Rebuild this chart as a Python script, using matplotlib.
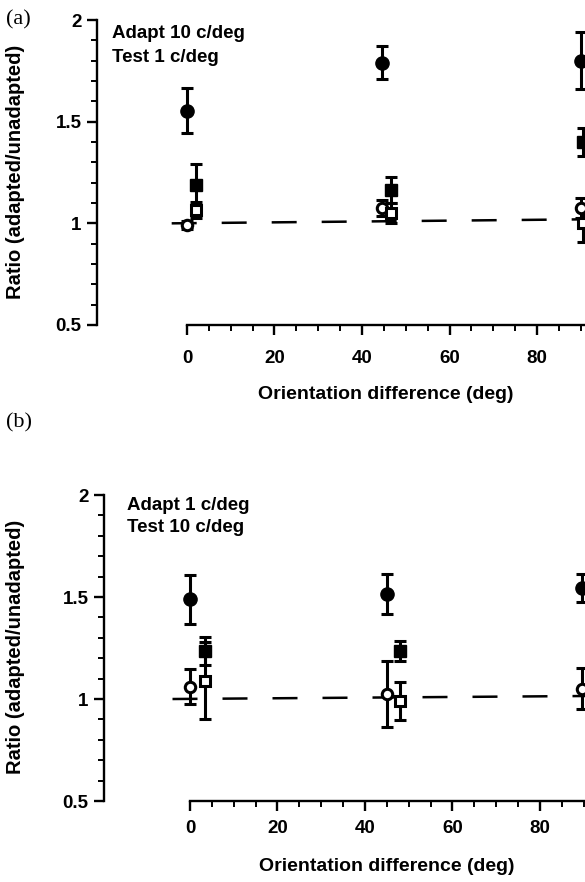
import matplotlib.pyplot as plt
from matplotlib.ticker import MultipleLocator, FixedLocator

# (a) Adapt 10 c/deg, Test 1 c/deg
a_circle_x = [0, 44.5, 90]
a_filled_circle = [1.555, 1.79, 1.80]
a_filled_circle_err = [0.113, 0.08, 0.14]
a_open_circle = [0.99, 1.074, 1.074]
a_open_circle_err = [0.02, 0.04, 0.05]
a_square_x = [2, 46.6, 90.6]
a_filled_square = [1.19, 1.163, 1.40]
a_filled_square_err = [0.10, 0.065, 0.07]
a_open_square = [1.065, 1.05, 1.0]
a_open_square_err = [0.04, 0.05, 0.09]
a_fit_x = [-3.5, 92]
a_fit_y = [1.0, 1.02]

# (b) Adapt 1 c/deg, Test 10 c/deg
b_circle_x = [0, 45, 89.6]
b_filled_circle = [1.49, 1.515, 1.545]
b_filled_circle_err = [0.12, 0.10, 0.07]
b_open_circle = [1.06, 1.025, 1.05]
b_open_circle_err = [0.085, 0.16, 0.10]
b_square_x = [3.5, 48]
b_filled_square = [1.235, 1.235]
b_filled_square_err = [0.07, 0.05]
b_open_square = [1.09, 0.99]
b_open_square_err = [0.19, 0.095]
b_fit_x = [-4, 92]
b_fit_y = [1.0, 1.015]

y_ticks = [0.5, 1, 1.5, 2]
y_ticklabels = ["0.5", "1", "1.5", "2"]
x_ticks = [0, 20, 40, 60, 80]
x_minor = [5, 10, 15, 25, 30, 35, 45, 50, 55, 65, 70, 75, 85, 90]

plt.rcParams['font.family'] = ['Liberation Sans', 'DejaVu Sans']
W, H = 585, 882
fig = plt.figure(figsize=(W / 100, H / 100), dpi=100)


def draw_panel(ax, xlim, circle_x, fc, fc_err, oc, oc_err, square_x, fs, fs_err, os_, os_err,
               fit_x, fit_y, lab_x, lab_y, xpad):
    ax.plot(fit_x, fit_y, color='black', lw=1.8, dashes=(10, 10), zorder=1)
    err_kw = dict(ecolor='black', elinewidth=2.2, capsize=4.5, capthick=2.2, linestyle='none')
    ax.errorbar(circle_x, fc, yerr=fc_err, marker='o', ms=9.5, mfc='black', mec='black', zorder=3, **err_kw)
    ax.errorbar(square_x, fs, yerr=fs_err, marker='s', ms=8.5, mfc='black', mec='black', zorder=3, **err_kw)
    ax.errorbar(circle_x, oc, yerr=oc_err, marker='o', ms=7.5, mfc='white', mec='black', mew=2.2, zorder=4, **err_kw)
    ax.errorbar(square_x, os_, yerr=os_err, marker='s', ms=7.5, mfc='white', mec='black', mew=2.2, zorder=4, **err_kw)

    ax.set_xlim(*xlim)
    ax.set_ylim(0.5, 2.01)
    for side in ['top', 'right']:
        ax.spines[side].set_visible(False)
    ax.spines['left'].set_bounds(0.5, 2)
    ax.spines['bottom'].set_bounds(0, xlim[1])
    for side in ['left', 'bottom']:
        ax.spines[side].set_linewidth(1.7)

    ax.set_yticks(y_ticks)
    ax.set_yticklabels(y_ticklabels)
    ax.yaxis.set_minor_locator(MultipleLocator(0.1))
    ax.set_xticks(x_ticks)
    ax.xaxis.set_minor_locator(FixedLocator(x_minor))
    ax.tick_params(which='major', direction='out', length=7, width=1.7, labelsize=13.5)
    ax.tick_params(which='minor', direction='out', length=4, width=1.4)
    ax.tick_params(axis='x', pad=xpad)
    ax.tick_params(axis='y', pad=4)
    for lbl in ax.get_xticklabels() + ax.get_yticklabels():
        lbl.set_fontweight('bold')

    ax.set_ylabel("Ratio (adapted/unadapted)", fontsize=14.5, fontweight='bold')
    ax.set_xlabel("Orientation difference (deg)", fontsize=14, fontweight='bold')
    ax.yaxis.set_label_coords(lab_y, 0.5)
    ax.xaxis.set_label_coords(lab_x[0], lab_x[1])


ax_a = fig.add_axes([97 / W, 1 - 325 / H, 488 / W, 307 / H])
draw_panel(ax_a, (-20.57, 90.97), a_circle_x, a_filled_circle, a_filled_circle_err,
           a_open_circle, a_open_circle_err, a_square_x, a_filled_square, a_filled_square_err,
           a_open_square, a_open_square_err, a_fit_x, a_fit_y, (0.592, -0.2), -0.1475, 11)

ax_b = fig.add_axes([104 / W, 1 - 801 / H, 481 / W, 308 / H])
draw_panel(ax_b, (-19.66, 90.3), b_circle_x, b_filled_circle, b_filled_circle_err,
           b_open_circle, b_open_circle_err, b_square_x, b_filled_square, b_filled_square_err,
           b_open_square, b_open_square_err, b_fit_x, b_fit_y, (0.588, -0.185), -0.164, 7)

# condition labels
fig.text(112 / W, 1 - 33 / H, "Adapt 10 c/deg", fontsize=13.5, fontweight='bold', va='center')
fig.text(112 / W, 1 - 58 / H, "Test 1 c/deg", fontsize=13.5, fontweight='bold', va='center')
fig.text(127 / W, 1 - 505 / H, "Adapt 1 c/deg", fontsize=13.5, fontweight='bold', va='center')
fig.text(127 / W, 1 - 528 / H, "Test 10 c/deg", fontsize=13.5, fontweight='bold', va='center')

fig.text(6 / W, 1 - 20 / H, "(a)", fontsize=16, family='Liberation Serif', va='center')
fig.text(6 / W, 1 - 423 / H, "(b)", fontsize=16, family='Liberation Serif', va='center')

fig.savefig("out.png", dpi=100)
